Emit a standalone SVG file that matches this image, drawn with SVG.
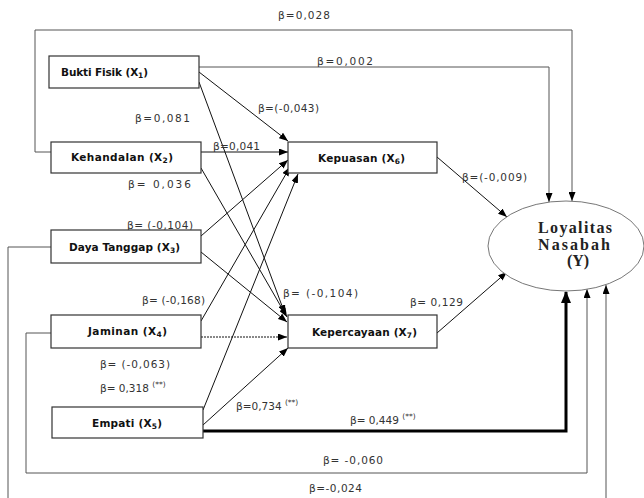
<svg xmlns="http://www.w3.org/2000/svg" width="644" height="498" viewBox="0 0 644 498">
<defs>
<style>
.box{fill:#fff;stroke:#333;stroke-width:1.2}
.bl{font-family:"DejaVu Sans",Verdana,sans-serif;font-weight:bold;font-size:10.5px;fill:#111}
.el{font-family:"DejaVu Sans",Verdana,sans-serif;font-size:10.5px;fill:#333}
.c{fill:none;stroke:#111;stroke-width:1;marker-end:url(#ah)}
.lp{fill:none;stroke:#555;stroke-width:1;marker-end:url(#ah)}
.thick{fill:none;stroke:#000;stroke-width:3;marker-end:url(#ahb)}
.yl{font-family:"Liberation Serif","Times New Roman",serif;font-weight:bold;font-size:16px;fill:#222}
</style>
<marker id="ah" markerUnits="userSpaceOnUse" markerWidth="9" markerHeight="7" refX="9" refY="3.5" orient="auto"><path d="M0,0 L9,3.5 L0,7 z" fill="#000"/></marker>
<marker id="ahb" markerUnits="userSpaceOnUse" markerWidth="12" markerHeight="10" refX="11" refY="5" orient="auto"><path d="M0,0 L12,5 L0,10 z" fill="#000"/></marker>
</defs>
<rect width="644" height="498" fill="#fff"/>
<g id="connectors">
<line class="c" x1="199" y1="72" x2="288" y2="141"/>
<line class="c" x1="201" y1="152" x2="288" y2="152"/>
<line class="c" x1="201" y1="236" x2="288" y2="160"/>
<line class="c" x1="201" y1="321" x2="290" y2="167"/>
<line class="c" x1="203" y1="410" x2="298" y2="174"/>
<line class="c" x1="199" y1="82" x2="285" y2="314"/>
<line class="c" x1="201" y1="168" x2="287" y2="317"/>
<line class="c" x1="201" y1="252" x2="287" y2="322"/>
<line class="c" x1="201" y1="337" x2="287" y2="337" stroke-dasharray="2,1" stroke="#444"/>
<line class="c" x1="203" y1="425" x2="288" y2="348"/>
<line class="c" x1="437" y1="157" x2="507" y2="217"/>
<line class="c" x1="437" y1="333" x2="507" y2="272"/>
<path class="lp" d="M199,67 L549,67 L549,202"/>
<path class="lp" d="M51,152 L35,152 L35,30 L572,30 L572,201"/>
<path class="lp" d="M51,247 L8,247 L8,510 L606,510 L606,285"/>
<path class="lp" d="M51,333 L26,333 L26,473 L587,473 L587,289"/>
<path class="thick" d="M203,431 L566,431 L566,292"/>
</g>
<g id="labels">
<text class="el" x="278" y="19" textLength="52">β=0,028</text>
<text class="el" x="317" y="65" textLength="56">β=0,002</text>
<text class="el" x="258" y="112" textLength="61">β=(-0,043)</text>
<text class="el" x="135" y="122" textLength="55">β=0,081</text>
<text class="el" x="213" y="150" textLength="47">β=0,041</text>
<text class="el" x="128" y="188" textLength="63">β= 0,036</text>
<text class="el" x="127" y="229" textLength="66">β= (-0,104)</text>
<text class="el" x="142" y="304" textLength="63">β= (-0,168)</text>
<text class="el" x="283" y="297" textLength="75">β= (-0,104)</text>
<text class="el" x="462" y="181" textLength="65">β=(-0,009)</text>
<text class="el" x="410" y="306" textLength="53">β= 0,129</text>
<text class="el" x="100" y="368" textLength="70">β= (-0,063)</text>
<text class="el" x="100" y="392">β= 0,318 <tspan font-size="7.5" dy="-5">(**)</tspan></text>
<text class="el" x="236" y="410">β=0,734 <tspan font-size="7.5" dy="-5">(**)</tspan></text>
<text class="el" x="350" y="424">β= 0,449 <tspan font-size="7.5" dy="-5">(**)</tspan></text>
<text class="el" x="323" y="464" textLength="60">β= -0,060</text>
<text class="el" x="309" y="492" textLength="53">β=-0,024</text>
</g>
<g id="bukti-fisik">
<rect class="box" x="49" y="56" width="150" height="32"/>
<text class="bl" x="61" y="76" textLength="87">Bukti Fisik (X<tspan font-size="7.5" dy="2">1</tspan><tspan dy="-2">)</tspan></text>
</g>
<g id="kehandalan">
<rect class="box" x="51" y="142" width="150" height="31"/>
<text class="bl" x="71" y="161" textLength="102">Kehandalan (X<tspan font-size="7.5" dy="2">2</tspan><tspan dy="-2">)</tspan></text>
</g>
<g id="daya-tanggap">
<rect class="box" x="51" y="230" width="150" height="33"/>
<text class="bl" x="69" y="251" textLength="111">Daya Tanggap (X<tspan font-size="7.5" dy="2">3</tspan><tspan dy="-2">)</tspan></text>
</g>
<g id="jaminan">
<rect class="box" x="51" y="315" width="150" height="33"/>
<text class="bl" x="88" y="335" textLength="79">Jaminan (X<tspan font-size="7.5" dy="2">4</tspan><tspan dy="-2">)</tspan></text>
</g>
<g id="empati">
<rect class="box" x="52" y="407" width="151" height="31"/>
<text class="bl" x="92" y="427" textLength="70">Empati (X<tspan font-size="7.5" dy="2">5</tspan><tspan dy="-2">)</tspan></text>
</g>
<g id="kepuasan">
<rect class="box" x="288" y="142" width="149" height="31"/>
<text class="bl" x="318" y="162" textLength="87">Kepuasan (X<tspan font-size="7.5" dy="2">6</tspan><tspan dy="-2">)</tspan></text>
</g>
<g id="kepercayaan">
<rect class="box" x="288" y="315" width="149" height="33"/>
<text class="bl" x="312" y="336" textLength="105">Kepercayaan (X<tspan font-size="7.5" dy="2">7</tspan><tspan dy="-2">)</tspan></text>
</g>
<g id="loyalitas">
<ellipse cx="566" cy="246" rx="78" ry="45" fill="#fff" stroke="#777" stroke-width="1"/>
<text class="yl" x="575" y="233" text-anchor="middle" textLength="74">Loyalitas</text>
<text class="yl" x="574" y="250" text-anchor="middle" textLength="72">Nasabah</text>
<text class="yl" x="578" y="266" text-anchor="middle">(Y)</text>
</g>
</svg>
